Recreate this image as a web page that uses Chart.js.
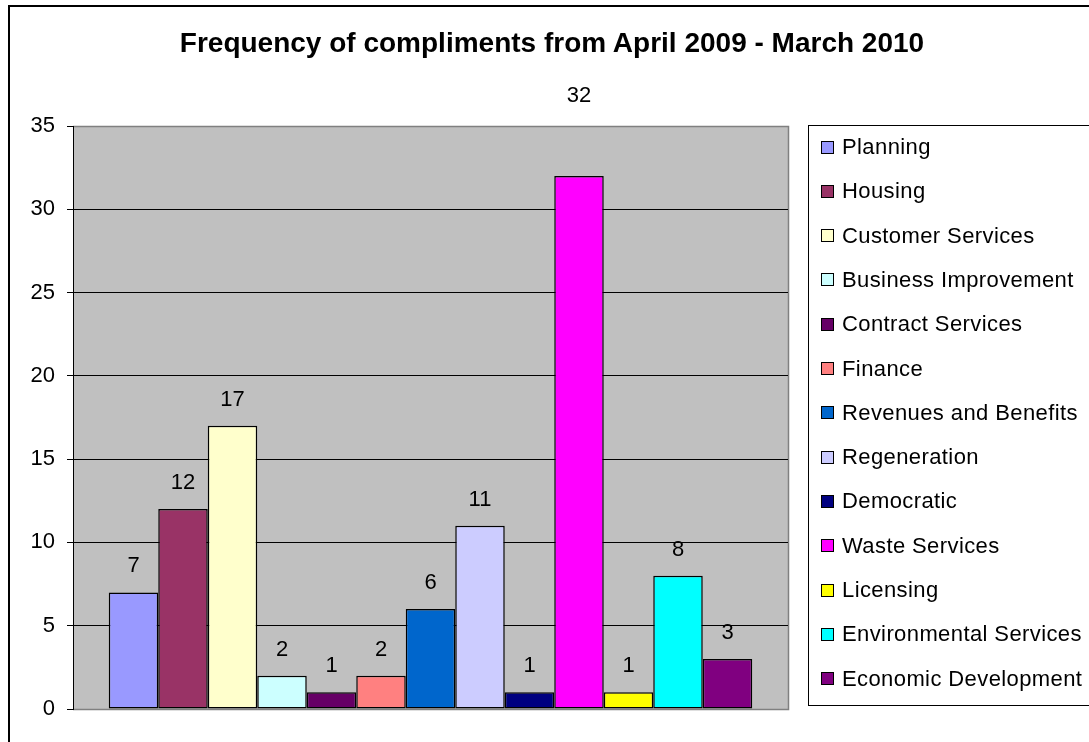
<!DOCTYPE html>
<html lang="en">
<head>
    <meta charset="UTF-8">
    <title>Frequency of compliments</title>
    <script src="https://cdn.jsdelivr.net/npm/chart.js"></script>
    <style>
        html, body { margin: 0; padding: 0; background: #fff; overflow: hidden; }
        body { width: 1089px; height: 742px; position: relative; font-family: "Liberation Sans", Arial, sans-serif; }
        #frame { position: absolute; left: 8px; top: 5px; width: 1200px; height: 800px; border-left: 2px solid #000; border-top: 2px solid #000; }
        #chart { position: absolute; left: 0; top: 0; }
        #title { position: absolute; left: 0; width: 1104px; top: 29px; text-align: center; font-size: 28px; line-height: 28px; font-weight: bold; color: #000; }
        #legend { position: absolute; left: 808px; top: 125px; width: 300px; height: 579px; border: 1px solid #000; }
        .item { position: absolute; left: 12px; height: 30px; display: flex; align-items: center; font-size: 22px; letter-spacing: 0.4px; color: #000; white-space: nowrap; }
        .swatch { width: 11px; height: 11px; border: 1px solid #000; margin-right: 8px; }
    </style>
</head>
<body>
    <div id="frame"></div>
    <canvas id="chart" width="1089" height="742"></canvas>
    <div id="title">Frequency of compliments from April 2009 - March 2010</div>
    <div id="legend"></div>

    <script>
        const services = ['Planning', 'Housing', 'Customer Services', 'Business Improvement', 'Contract Services',
            'Finance', 'Revenues and Benefits', 'Regeneration', 'Democratic', 'Waste Services', 'Licensing',
            'Environmental Services', 'Economic Development'];
        const compliments = [7, 12, 17, 2, 1, 2, 6, 11, 1, 32, 1, 8, 3];
        const barColours = ['#9999FF', '#993366', '#FFFFCC', '#CCFFFF', '#660066', '#FF8080', '#0066CC',
            '#CCCCFF', '#000080', '#FF00FF', '#FFFF00', '#00FFFF', '#800080'];
        const yTicks = [0, 5, 10, 15, 20, 25, 30, 35];

        Chart.defaults.font.family = '"Liberation Sans", Arial, sans-serif';
        Chart.defaults.font.size = 22;
        Chart.defaults.color = '#000';

        // legend box on the right
        const legendBox = document.getElementById('legend');
        services.forEach((name, i) => {
            const item = document.createElement('div');
            item.className = 'item';
            item.style.top = (6 + i * 44.3) + 'px';
            item.innerHTML = '<span class="swatch" style="background:' + barColours[i] + '"></span>' + name;
            legendBox.appendChild(item);
        });

        // grey plot area with a grey frame
        const plotArea = {
            id: 'plotArea',
            beforeDraw(chart) {
                const a = chart.chartArea, ctx = chart.ctx;
                ctx.save();
                ctx.fillStyle = '#C0C0C0';
                ctx.fillRect(a.left, a.top, a.right - a.left, a.bottom - a.top);
                ctx.strokeStyle = '#808080';
                ctx.lineWidth = 1.5;
                ctx.beginPath();
                ctx.moveTo(a.left, a.top + 0.5);
                ctx.lineTo(a.right + 0.5, a.top + 0.5);
                ctx.lineTo(a.right + 0.5, a.bottom + 0.5);
                ctx.lineTo(a.left, a.bottom + 0.5);
                ctx.stroke();
                ctx.restore();
            }
        };

        // value labels above each bar (the Waste Services label sits higher, as in the original)
        const valueLabels = {
            id: 'valueLabels',
            afterDatasetsDraw(chart) {
                const ctx = chart.ctx;
                ctx.save();
                ctx.font = '22px "Liberation Sans", Arial, sans-serif';
                ctx.fillStyle = '#000';
                ctx.textAlign = 'center';
                ctx.textBaseline = 'middle';
                chart.data.datasets.forEach((ds, i) => {
                    const bar = chart.getDatasetMeta(i).data[0];
                    const lift = ds.data[0] > 30 ? 80 : 26;
                    ctx.fillText(String(ds.data[0]), bar.x, bar.y - lift);
                });
                ctx.restore();
            }
        };

        new Chart(document.getElementById('chart'), {
            type: 'bar',
            data: {
                labels: [''],
                datasets: services.map((name, i) => ({
                    label: name,
                    data: [compliments[i]],
                    backgroundColor: barColours[i],
                    borderColor: '#000',
                    borderWidth: 1.5,
                    borderSkipped: false,
                    barPercentage: 1,
                    categoryPercentage: 0.9
                }))
            },
            options: {
                responsive: false,
                animation: false,
                layout: { padding: { left: 0, top: 126, right: 301, bottom: 33 } },
                plugins: {
                    legend: { display: false },
                    title: { display: false },
                    tooltip: { enabled: false }
                },
                scales: {
                    x: { display: false },
                    y: {
                        min: 0,
                        max: 35,
                        afterFit(scale) { scale.width = 73; },
                        afterBuildTicks(scale) { scale.ticks = yTicks.map(v => ({ value: v })); },
                        border: { color: '#000', width: 1 },
                        grid: {
                            color: ctx => (ctx.tick && (ctx.tick.value === 0 || ctx.tick.value === 35)) ? '#808080' : '#000',
                            tickColor: '#000',
                            tickLength: 6,
                            lineWidth: 1
                        },
                        ticks: { padding: 12, color: '#000', font: { size: 22 } }
                    }
                }
            },
            plugins: [plotArea, valueLabels]
        });
    </script>
</body>
</html>
